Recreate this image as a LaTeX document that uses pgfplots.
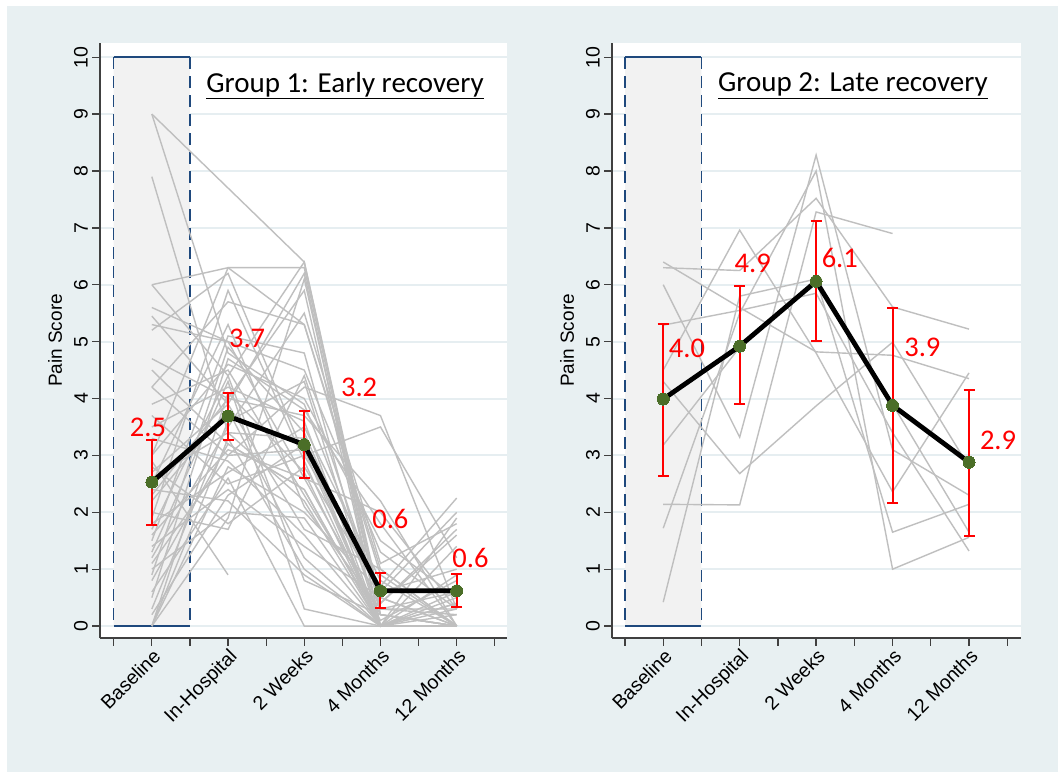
\documentclass[border=0pt]{standalone}
\usepackage{fontspec}
\setmainfont{Liberation Sans}
\newfontfamily\calibri{Carlito}
\usepackage{pgfplots}
\pgfplotsset{compat=1.18}
\usepackage{pgfplotstable}

\definecolor{bgc}{HTML}{E8F0F2}
\definecolor{gridc}{HTML}{E6EEF1}
\definecolor{rectc}{HTML}{F2F2F2}
\definecolor{rectline}{HTML}{1F497D}
\definecolor{axc}{HTML}{404040}
\definecolor{spag}{HTML}{BFBFBF}
\definecolor{olivec}{HTML}{4B6E28}

% Group 1: rows = time points (1 Baseline ... 5 = 12 Months), columns = subjects
\pgfplotstableread{
t s1 s2 s3 s4 s5 s6 s7 s8 s9 s10 s11 s12 s13 s14 s15 s16 s17 s18 s19 s20 s21 s22 s23 s24 s25 s26 s27 s28 s29 s30 s31 s32 s33 s34 s35 s36 s37 s38 s39 s40 s41 s42 s43 s44 s45 s46 s47 s48
1 9.0 9.0 7.9 6.0 6.0 5.6 5.45 5.3 5.2 4.7 4.2 4.2 3.7 3.5 3.3 3.0 3.0 2.8 2.6 2.5 2.4 2.3 2.2 2.0 1.9 1.8 1.7 1.6 1.5 1.4 1.3 1.2 1.0 0.9 0.8 0.6 0.5 0.3 0.0 0.0 0.0 0.0 2.9 4.5 3.9 1.1 2.7 0.2
2 nan 4.8 3.4 6.3 4.4 5.0 3.9 5.0 6.2 4.0 5.7 3.0 2.5 4.2 2.9 6.3 4.6 1.8 3.4 5.3 2.2 4.0 3.8 1.7 5.9 2.7 4.4 3.1 5.1 2.4 4.3 3.5 2.0 4.9 3.2 2.6 4.7 3.6 2.8 4.1 1.9 3.3 0.9 3.2 4.5 3.0 3.9 2.3
3 6.4 3.9 2.2 5.3 6.4 2.6 6.2 4.5 3.0 5.9 5.3 4.2 3.0 3.6 1.6 6.3 4.0 2.8 3.3 2.1 0.9 3.7 1.2 4.4 2.9 3.5 0.8 2.6 4.8 1.4 0.3 5.5 1.9 3.4 2.4 0.0 3.8 4.3 2.0 2.7 6.1 1.0 nan 2.4 2.3 3.1 1.7 3.2
4 0.3 0.5 0.0 1.0 0.4 0.2 0.0 1.3 0.7 0.0 0.9 3.7 3.5 0.0 0.0 0.2 1.5 0.6 0.0 0.3 0.0 2.2 0.0 0.4 0.0 0.8 0.2 2.0 0.0 0.5 0.0 1.1 0.0 0.3 0.0 0.0 1.8 0.0 0.6 0.0 0.2 0.0 nan 0.0 0.1 0.0 1.0 0.0
5 0.2 0.0 0.4 0.0 1.6 0.0 0.6 0.3 2.25 0.0 0.0 0.3 1.2 1.9 0.0 0.0 0.5 2.0 0.0 0.3 1.4 0.0 0.0 1.7 0.5 0.0 0.0 0.3 0.9 0.0 0.0 1.8 0.0 0.6 0.0 0.3 0.0 0.0 1.0 0.0 0.0 0.4 nan 0.0 0.8 0.0 0.0 0.2
}\gone

% Group 2
\pgfplotstableread{
t s1 s2 s3 s4 s5 s6 s7 s8 s9 s10
1 6.40 6.30 6.00 5.29 4.50 3.18 2.14 1.72 0.42 4.30
2 5.60 6.25 3.32 5.55 6.96 4.90 2.13 5.50 5.80 2.68
3 4.82 7.52 8.28 5.85 4.80 6.10 7.28 8.00 6.10 3.87
4 4.76 5.61 3.10 3.40 2.36 1.65 6.90 1.00 3.90 4.99
5 4.35 5.22 2.30 1.32 4.45 2.14 nan 1.56 1.65 2.80
}\gtwo

\tikzset{
  redlab/.style={text=red, font=\calibri\fontsize{28.5}{31}\selectfont, inner sep=0pt},
  titlab/.style={font=\calibri\fontsize{29}{32}\selectfont, inner sep=0pt},
}

\pgfplotsset{
  panel/.style={
    scale only axis, anchor=south west,
    height=595pt, ymin=-0.21, ymax=10.25,
    axis x line*=bottom, axis y line*=left,
    axis line style={-, draw=axc, line width=1.3pt},
    tick style={draw=axc, line width=1.3pt},
    tick align=outside, major tick length=8pt, minor tick length=8pt,
    xtick={1,2,3,4,5},
    xticklabels={Baseline,In-Hospital,2 Weeks,4 Months,12 Months},
    minor xtick={0.5,1.5,2.5,3.5,4.5,5.5},
    ytick={0,1,2,3,4,5,6,7,8,9,10},
    ymajorgrids, grid style={draw=gridc, line width=2pt},
    axis background/.style={fill=white},
    tick label style={font=\fontsize{19.5}{21}\selectfont},
    /pgf/number format/assume math mode=true,
    yticklabel style={rotate=90, anchor=south, inner sep=2pt, yshift=2pt},
    xticklabel style={rotate=45, anchor=north east, inner sep=1pt},
    ylabel={Pain Score},
    ylabel style={font=\fontsize{19}{21}\selectfont, at={(axis description cs:0,0.5)}, anchor=center, rotate=0, yshift=45pt},
    unbounded coords=discard,
    clip=false,
  },
  spaghetti/.style={spag, line width=1.4pt, forget plot},
  ebars/.style={draw=none, forget plot, error bars/.cd, y dir=both, y explicit,
    error bar style={draw=red, line width=2pt},
    error mark options={draw=red, rotate=90, mark size=5.5pt, line width=2pt}},
  meanline/.style={black, line width=4.8pt, mark=*, mark size=6pt,
    mark options={fill=olivec, draw=olivec, line width=0pt}},
}

\newcommand{\baselinebox}{%
  \addplot[fill=rectc, draw=none, forget plot] coordinates {(0.5,0) (0.5,10) (1.5,10) (1.5,0) (0.5,0)};
  \addplot[rectline, line width=1.5pt, forget plot] coordinates {(0.5,10) (1.5,10)};
  \addplot[rectline, line width=1.5pt, forget plot] coordinates {(0.5,0) (1.5,0)};
  \addplot[rectline, line width=1.5pt, dash pattern=on 12pt off 7pt, forget plot] coordinates {(0.5,10) (0.5,0)};
  \addplot[rectline, line width=1.5pt, dash pattern=on 12pt off 7pt, forget plot] coordinates {(1.5,10) (1.5,0)};
}

\begin{document}
\begin{tikzpicture}
\useasboundingbox (0,0) rectangle (1058pt,772pt);
\fill[white] (0,0) rectangle (1058pt,772pt);
\fill[bgc] (7pt,0) rectangle (1058pt,766pt);

% ---------- Panel 1 ----------
\begin{axis}[panel, at={(100pt,134pt)}, width=407pt, xmin=0.32, xmax=5.66]
\baselinebox
\pgfplotsinvokeforeach{1,...,48}{
  \addplot[spaghetti] table[x=t, y=s#1] {\gone};
}
\addplot[ebars] coordinates {
  (1,2.53) += (0,0.74) -= (0,0.75)
  (2,3.69) += (0,0.41) -= (0,0.42)
  (3,3.19) += (0,0.59) -= (0,0.59)
  (4,0.62) += (0,0.31) -= (0,0.30)
  (5,0.62) += (0,0.30) -= (0,0.28)
};
\addplot[meanline] coordinates {(1,2.53) (2,3.69) (3,3.19) (4,0.62) (5,0.62)};
\node[redlab] at (axis cs:0.95,3.50) {2.5};
\node[redlab] at (axis cs:2.25,5.06) {3.7};
\node[redlab] at (axis cs:3.72,4.20) {3.2};
\node[redlab] at (axis cs:4.13,1.88) {0.6};
\node[redlab] at (axis cs:5.18,1.20) {0.6};
\node[titlab] at (rel axis cs:0.602,0.928) {\underline{Group 1: Early recovery}};
\end{axis}

% ---------- Panel 2 ----------
\begin{axis}[panel, at={(612pt,134pt)}, width=409pt, xmin=0.33, xmax=5.68]
\baselinebox
\pgfplotsinvokeforeach{1,...,10}{
  \addplot[spaghetti] table[x=t, y=s#1] {\gtwo};
}
\addplot[ebars] coordinates {
  (1,3.99) += (0,1.32) -= (0,1.35)
  (2,4.92) += (0,1.06) -= (0,1.02)
  (3,6.06) += (0,1.06) -= (0,1.05)
  (4,3.88) += (0,1.72) -= (0,1.72)
  (5,2.88) += (0,1.27) -= (0,1.30)
};
\addplot[meanline] coordinates {(1,3.99) (2,4.92) (3,6.06) (4,3.88) (5,2.88)};
\node[redlab] at (axis cs:1.31,4.89) {4.0};
\node[redlab] at (axis cs:2.17,6.38) {4.9};
\node[redlab] at (axis cs:3.31,6.47) {6.1};
\node[redlab] at (axis cs:4.39,4.90) {3.9};
\node[redlab] at (axis cs:5.38,3.27) {2.9};
\node[titlab] at (rel axis cs:0.589,0.928) {\underline{Group 2: Late recovery}};
\end{axis}
\end{tikzpicture}
\end{document}
